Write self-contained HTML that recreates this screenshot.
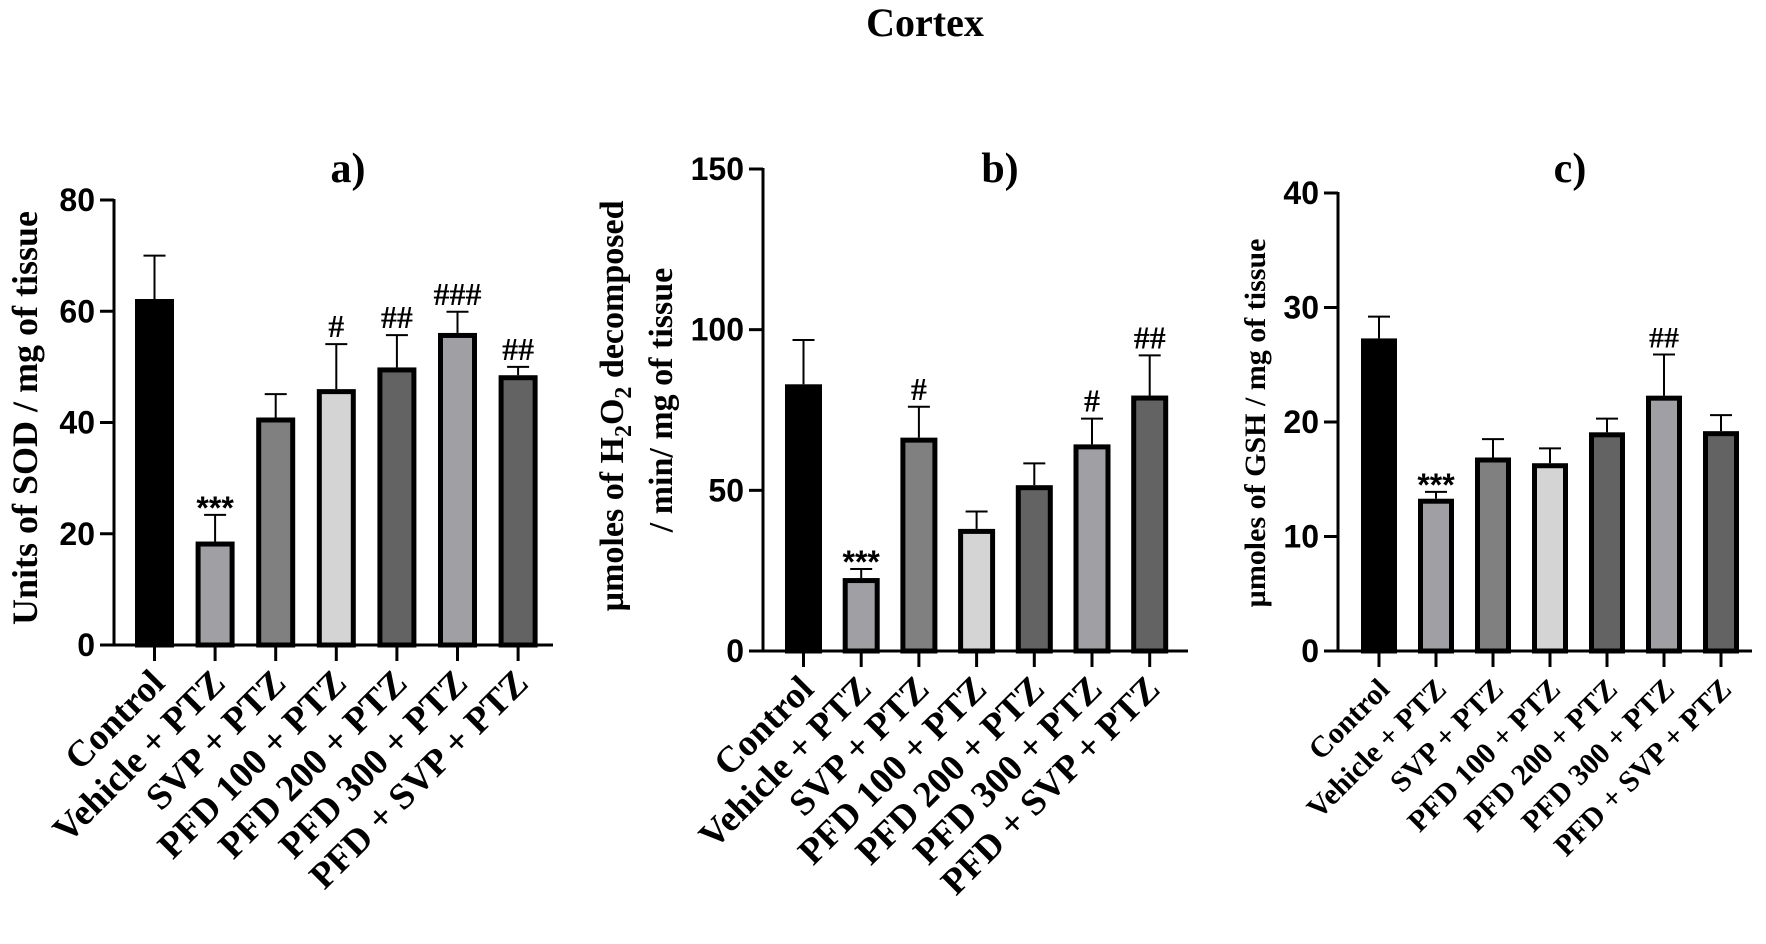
<!DOCTYPE html>
<html><head><meta charset="utf-8"><style>
html,body{margin:0;padding:0;background:#fff;}
svg{display:block;}
.tk{font-family:"Liberation Sans",Arial,sans-serif;font-weight:bold;font-size:32px;fill:#000;}
.ser{font-family:"Liberation Serif","Times New Roman",serif;font-weight:bold;fill:#000;}
</style></head><body>
<svg id="chart" width="1766" height="944" viewBox="0 0 1766 944" xmlns="http://www.w3.org/2000/svg">
<text class="ser" x="925" y="36" font-size="40" text-anchor="middle">Cortex</text>
<g id="pa"></g>
<g id="pb"></g>
<g id="pc"></g>
</svg>
<script>
const categories = ["Control","Vehicle + PTZ","SVP + PTZ","PFD 100 + PTZ","PFD 200 + PTZ","PFD 300 + PTZ","PFD + SVP + PTZ"];
const sodValues = [62.2, 18.6, 40.9, 46.0, 49.9, 56.1, 48.5];
const sodErrors = [70.0, 23.4, 45.1, 54.1, 55.7, 59.9, 50.0];
const sodMarks = ["", "***", "", "#", "##", "###", "##"];
const sodTicks = [0, 20, 40, 60, 80];
const catValues = [83.0, 22.7, 66.4, 38.0, 51.6, 64.3, 79.5];
const catErrors = [96.8, 25.5, 76.0, 43.4, 58.4, 72.3, 92.0];
const catMarks = ["", "***", "#", "", "", "#", "##"];
const catTicks = [0, 50, 100, 150];
const gshValues = [27.3, 13.3, 16.9, 16.4, 19.1, 22.3, 19.2];
const gshErrors = [29.2, 13.9, 18.5, 17.7, 20.3, 25.9, 20.6];
const gshMarks = ["", "***", "", "", "", "##", ""];
const gshTicks = [0, 10, 20, 30, 40];
const fills = ["#000000","#a0a0a4","#808080","#d4d4d4","#636363","#a0a0a4","#636363"];
const NS = "http://www.w3.org/2000/svg";
function mk(parent, tag, attrs, txt){
  const e = document.createElementNS(NS, tag);
  for (const k in attrs) e.setAttribute(k, attrs[k]);
  if (txt !== undefined) e.textContent = txt;
  parent.appendChild(e); return e;
}
function panel(g, cfg, values, errors, marks, ticks){
  const y = v => cfg.y0 - (v / cfg.max) * (cfg.y0 - cfg.yTop);
  const x = i => cfg.c0 + i * cfg.step;
  const ya = mk(g, "line", {x1:cfg.ax, y1:y(cfg.max)-1, x2:cfg.ax, y2:cfg.y0+1.5, stroke:"#000","stroke-width":3});
  
  
  const xa = mk(g, "line", {x1:cfg.ax-14, y1:cfg.y0, x2:cfg.xEnd, y2:cfg.y0, stroke:"#000","stroke-width":3});
  
  
  ticks.forEach(t => {
    const l = mk(g, "line", {x1:cfg.ax-14, y1:y(t), x2:cfg.ax, y2:y(t), stroke:"#000","stroke-width":3});
    
    
    const tx = mk(g, "text", {class:"tk", x:cfg.ax-19, y:y(t)+11, "text-anchor":"end"}, String(t));
    
    
  });
  values.forEach((v, i) => {
    const cx = x(i), hw = cfg.bw/2;
    const eb = mk(g, "line", {x1:cx, y1:y(errors[i]), x2:cx, y2:y(v), stroke:"#000","stroke-width":2});
    
    
    const cap = mk(g, "line", {x1:cx-11, y1:y(errors[i]), x2:cx+11, y2:y(errors[i]), stroke:"#000","stroke-width":2});
    
    
    const r = mk(g, "rect", {x:cx-hw+2.5, y:y(v)+2.5, width:cfg.bw-5, height:Math.max(0, cfg.y0-y(v)-2.5), fill:fills[i], stroke:"#000","stroke-width":5});
    
    
    const tk = mk(g, "line", {x1:cx, y1:cfg.y0, x2:cx, y2:cfg.y0+16, stroke:"#000","stroke-width":3});
    
    
    if (marks[i]) {
      const star = marks[i].startsWith("*");
      const m = mk(g, "text", {class: star ? "tk" : "ser", x:cx, y:y(errors[i]) + (star ? 4 : -7), "font-size": star ? 36 : cfg.hashSize, "font-weight":"bold", "text-anchor":"middle"}, marks[i]);
      
      
    }
    const lx = cx + 12, ly = cfg.y0 + 40;
    const lab = mk(g, "text", {class:"ser", x:lx, y:ly, "font-size":cfg.labSize, "text-anchor":"end", transform:`rotate(-45 ${lx} ${ly})`}, categories[i]);
    
    
  });
  const t = mk(g, "text", {class:"ser", x:cfg.tx, y:cfg.ty, "font-size":42, "text-anchor":"middle"}, cfg.title);
  
  
}
const pa = document.getElementById("pa"), pb = document.getElementById("pb"), pc = document.getElementById("pc");
panel(pa, {ax:114, y0:645, yTop:200, max:80, c0:154.5, step:60.6, bw:39, xEnd:553, labSize:37, hashSize:32, title:"a)", tx:348, ty:182}, sodValues, sodErrors, sodMarks, sodTicks);
panel(pb, {ax:763, y0:651, yTop:169, max:150, c0:803.5, step:57.7, bw:37, xEnd:1188, labSize:37, hashSize:32, title:"b)", tx:1000, ty:182}, catValues, catErrors, catMarks, catTicks);
panel(pc, {ax:1338, y0:651, yTop:193, max:40, c0:1379, step:57, bw:36, xEnd:1752, labSize:30, hashSize:30, title:"c)", tx:1570, ty:182}, gshValues, gshErrors, gshMarks, gshTicks);
let e;
e = mk(pa, "text", {class:"ser", x:0, y:0, "font-size":36, "text-anchor":"middle", transform:"translate(37 418) rotate(-90)"}, "Units of SOD / mg of tissue");


e = mk(pb, "text", {class:"ser", x:0, y:0, "font-size":34, "text-anchor":"middle", transform:"translate(623 406) rotate(-90)"});


e.innerHTML = 'µmoles of H<tspan font-size="24" dy="8">2</tspan><tspan dy="-8">O</tspan><tspan font-size="24" dy="8">2</tspan><tspan dy="-8"> decomposed</tspan>';
e = mk(pb, "text", {class:"ser", x:0, y:0, "font-size":34, "text-anchor":"middle", transform:"translate(672 400) rotate(-90)"}, "/ min/ mg of tissue");


e = mk(pc, "text", {class:"ser", x:0, y:0, "font-size":30, "text-anchor":"middle", transform:"translate(1265 423) rotate(-90)"}, "µmoles of GSH / mg of tissue");


</script>
</body></html>
